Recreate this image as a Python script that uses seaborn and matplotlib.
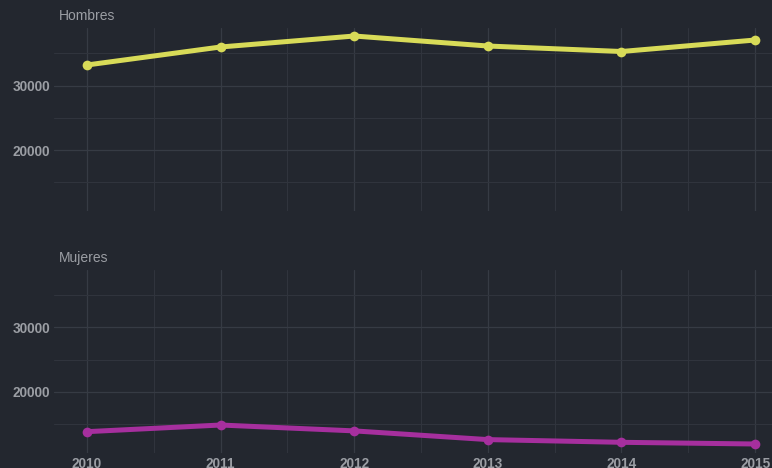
import matplotlib
matplotlib.use('Agg')
import matplotlib.pyplot as plt
import pandas as pd
import seaborn as sns
from matplotlib.ticker import MultipleLocator

# datos
years = [2010, 2011, 2012, 2013, 2014, 2015]
hombres = [33180, 35970, 37670, 36120, 35270, 37050]
mujeres = [13850, 14880, 13970, 12620, 12200, 11940]
paneles = ['Hombres', 'Mujeres']
colores = ['#d8db58', '#a62f9e']

bg = '#23272f'
grid_col = '#363b44'
text_col = '#9b9ea4'

sns.set_theme(style='dark')
plt.rcParams['font.family'] = ['Liberation Sans', 'DejaVu Sans']

df = pd.DataFrame({
    'year': years * 2,
    'valor': hombres + mujeres,
    'sexo': ['Hombres'] * len(years) + ['Mujeres'] * len(years),
})

fig = plt.figure(figsize=(7.72, 4.68), dpi=100)
fig.patch.set_facecolor(bg)

posiciones = [[0.0699, 0.549, 0.951, 0.391], [0.0699, 0.032, 0.951, 0.391]]

for i, (nombre, color) in enumerate(zip(paneles, colores)):
    ax = fig.add_axes(posiciones[i])
    ax.set_facecolor(bg)
    sub = df[df['sexo'] == nombre]
    sns.lineplot(data=sub, x='year', y='valor', ax=ax, color=color, lw=3.6,
                 marker='o', markersize=7, markeredgewidth=0, zorder=3)
    ax.set_xlim(2010 - 0.247, 2015 + 0.247)
    ax.set_ylim(10540, 38900)
    ax.xaxis.set_major_locator(MultipleLocator(1))
    ax.xaxis.set_minor_locator(MultipleLocator(0.5))
    ax.yaxis.set_major_locator(MultipleLocator(10000))
    ax.yaxis.set_minor_locator(MultipleLocator(5000))
    ax.grid(True, which='major', color=grid_col, lw=0.9)
    ax.grid(True, which='minor', color='#30343d', lw=0.8)
    for s in ax.spines.values():
        s.set_visible(False)
    ax.tick_params(axis='both', which='both', length=0, colors=text_col,
                   labelsize=9.8, pad=3)
    for lab in ax.get_yticklabels() + ax.get_xticklabels():
        lab.set_fontweight('bold')
    ax.set_xlabel('')
    ax.set_ylabel('')
    if i == 0:
        ax.set_xticklabels([])
    ax.text(59 / 772, 1 - (16 if i == 0 else 258) / 468, nombre,
            transform=fig.transFigure, color=text_col, fontsize=10,
            ha='left', va='center')

fig.savefig('out.png', dpi=100, facecolor=bg)
